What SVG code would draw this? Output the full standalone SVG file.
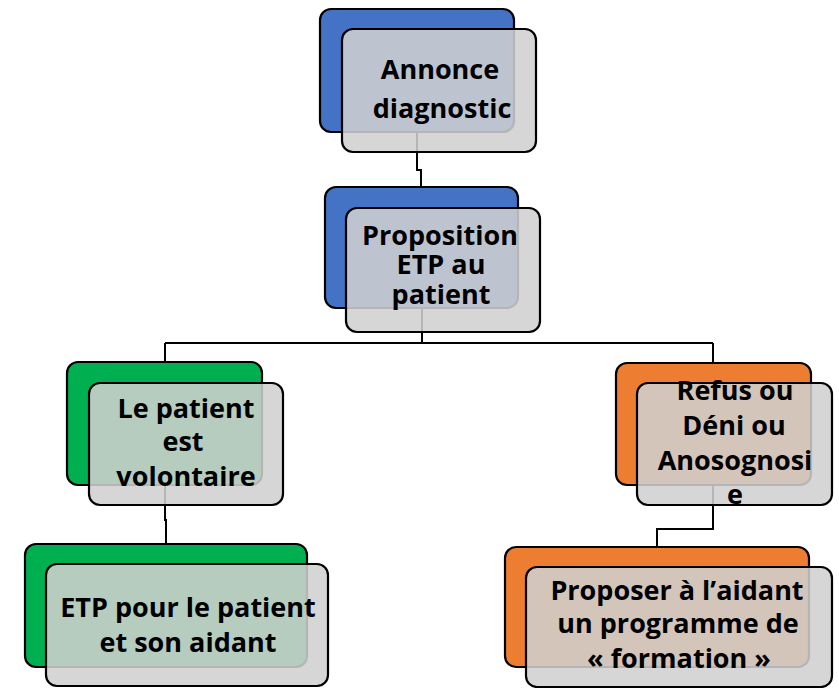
<svg xmlns="http://www.w3.org/2000/svg" width="839" height="688" viewBox="0 0 839 688">
<style>
.conn{fill:none;stroke:#000;stroke-width:2}
.back{stroke:#000;stroke-width:2.2}
.blue{fill:#4472C4}
.green{fill:#00B050}
.orange{fill:#ED7D31}
.front{fill:#D0D0D0;fill-opacity:0.87;stroke:#000;stroke-width:2.2}
text{font-family:"Open Sans","Noto Sans","Liberation Sans",sans-serif;font-weight:700;font-size:27px;fill:#000;text-anchor:middle}
</style>
<rect width="839" height="688" fill="#fff"/>
<g id="connectors">
<path class="conn" d="M417 132 V170 H421 V188"/>
<path class="conn" d="M422 308 V343"/>
<path class="conn" d="M165 343 H713"/>
<path class="conn" d="M165 343 V362"/>
<path class="conn" d="M713 343 V363"/>
<path class="conn" d="M165 485 V520 H166 V544"/>
<path class="conn" d="M713 485 V529 H657 V547"/>
</g>
<g id="node-annonce">
<rect class="back blue" x="320" y="9" width="194" height="123" rx="11"/>
<rect class="front" x="342" y="29" width="194" height="123" rx="11"/>
<text x="440" y="79">Annonce</text>
<text x="442" y="118">diagnostic</text>
</g>
<g id="node-proposition">
<rect class="back blue" x="325" y="187" width="193" height="121" rx="11"/>
<rect class="front" x="346" y="208" width="194" height="124" rx="11"/>
<text x="440" y="245">Proposition</text>
<text x="441" y="274">ETP au</text>
<text x="441" y="304">patient</text>
</g>
<g id="node-volontaire">
<rect class="back green" x="67" y="362" width="195" height="123" rx="11"/>
<rect class="front" x="89" y="383" width="194" height="122" rx="11"/>
<text x="186" y="418">Le patient</text>
<text x="183" y="451">est</text>
<text x="186" y="486">volontaire</text>
</g>
<g id="node-refus">
<rect class="back orange" x="616" y="363" width="195" height="122" rx="11"/>
<rect class="front" x="637" y="383" width="195" height="122" rx="11"/>
<text x="735" y="400">Refus ou</text>
<text x="734" y="435">Déni ou</text>
<text x="735" y="470">Anosognosi</text>
<text x="735" y="504">e</text>
</g>
<g id="node-etp">
<rect class="back green" x="25" y="544" width="282" height="123" rx="11"/>
<rect class="front" x="46" y="564" width="282" height="122" rx="11"/>
<text x="188" y="617">ETP pour le patient</text>
<text x="188" y="652">et son aidant</text>
</g>
<g id="node-proposer">
<rect class="back orange" x="505" y="547" width="304" height="120" rx="11"/>
<rect class="front" x="526" y="567" width="306" height="120" rx="11"/>
<text x="677" y="600">Proposer à l’aidant</text>
<text x="678" y="633">un programme de</text>
<text x="679" y="668">« formation »</text>
</g>
</svg>
